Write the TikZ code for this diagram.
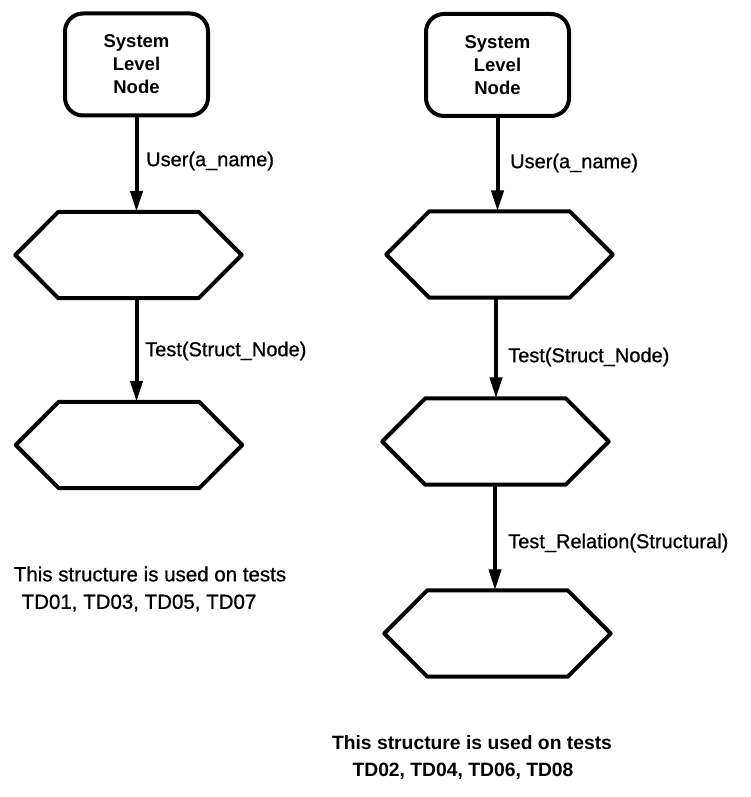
\documentclass[tikz,border=0pt]{standalone}
\usepackage{fontspec}
\setmainfont{Liberation Sans}
\newfontfamily\medfont{Liberation Sans}[FakeBold=0.8]
\usetikzlibrary{arrows.meta}

\begin{document}
\begin{tikzpicture}[x=1pt,y=-1pt,
  sysbox/.style={draw, rounded corners=18pt, line width=4pt,
    minimum width=143pt, minimum height=102pt, align=center,
    font=\fontsize{18.5}{23}\selectfont\bfseries},
  hexbox/.style={minimum width=226pt, minimum height=86pt, inner sep=0pt},
  hexline/.style={line width=4pt, line join=round},
  flow/.style={-{Triangle[length=21pt,width=12pt]}, line width=4pt},
  lbl/.style={anchor=west, inner sep=0pt, font=\fontsize{20}{24}\selectfont\medfont},
  note/.style={inner sep=0pt, font=\fontsize{20.5}{24}\selectfont\medfont},
  notebold/.style={inner sep=0pt, font=\fontsize{19.3}{24}\selectfont\bfseries}]
\useasboundingbox (0,0) rectangle (750,797);

% left structure
\node[sysbox] (sysL) at (136.5,64.5) {System\\Level\\Node};
\node[hexbox] (hL1) at (128.5,255) {};
\node[hexbox] (hL2) at (129,445) {};

% right structure
\node[sysbox] (sysR) at (497.5,65) {System\\Level\\Node};
\node[hexbox] (hR1) at (499.5,254.5) {};
\node[hexbox] (hR2) at (495.5,441.5) {};
\node[hexbox] (hR3) at (497.5,633.5) {};

% hexagon outlines
\foreach \h in {hL1,hL2,hR1,hR2,hR3}
  \draw[hexline] (\h.west) -- ([xshift=43pt]\h.north west)
    -- ([xshift=-43pt]\h.north east) -- (\h.east)
    -- ([xshift=-43pt]\h.south east) -- ([xshift=43pt]\h.south west) -- cycle;

% connectors
\draw[flow] (sysL.south) -- (sysL.south |- hL1.north);
\draw[flow] (sysL.south |- hL1.south) -- (sysL.south |- hL2.north);
\draw[flow] (sysR.south) -- (sysR.south |- hR1.north);
\draw[flow] ([xshift=-1.5pt]sysR.south |- hR1.south) -- ([xshift=-1.5pt]sysR.south |- hR2.north);
\draw[flow] ([xshift=-2.5pt]sysR.south |- hR2.south) -- ([xshift=-2.5pt]sysR.south |- hR3.north);

% connector labels
\node[lbl] (uL) at (146,161) {User(a\_name)};
\node[lbl] (tL) at (145,351) {Test(Struct\_Node)};
\node[lbl] (uR) at (510,163) {User(a\_name)};
\node[lbl] (tR) at (508,357) {Test(Struct\_Node)};
\node[lbl] (rR) at (508,543) {Test\_Relation(Structural)};

% usage notes
\node[note] (nL1) at (150,574) {This structure is used on tests};
\node[note] (nL2) at (139,603) {TD01, TD03, TD05, TD07};
\node[notebold] (nR1) at (472,743) {This structure is used on tests};
\node[notebold] (nR2) at (463,771) {TD02, TD04, TD06, TD08};
\end{tikzpicture}
\end{document}
